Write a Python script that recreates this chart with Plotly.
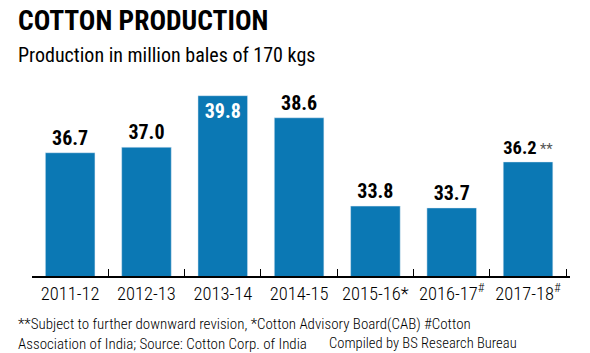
import plotly.graph_objects as go

years = ["2011-12", "2012-13", "2013-14", "2014-15", "2015-16", "2016-17", "2017-18"]
tick_text = ["2011-12", "2012-13", "2013-14", "2014-15", "2015-16*",
             "2016-17<sup>#</sup>", "2017-18<sup>#</sup>"]
production = [36.7, 37.0, 39.8, 38.6, 33.8, 33.7, 36.2]
label_suffix = ["", "", "", "", "", "", "<span style='font-size:16px;font-weight:normal;color:#555'> **</span>"]

FONT = "Roboto Condensed, DejaVu Sans Condensed, sans-serif"
BLUE = "#0b78b4"

labels = [f"{v:.1f}{s}" for v, s in zip(production, label_suffix)]
peak = production.index(max(production))
positions = ["inside" if i == peak else "outside" for i in range(len(production))]
colors = ["white" if i == peak else "black" for i in range(len(production))]

fig = go.Figure(go.Bar(
    x=years, y=production, marker_color=BLUE, width=0.65,
    text=labels, textposition=positions, insidetextanchor="end", textangle=0,
    textfont=dict(family=FONT, size=20, color=colors, weight="bold"),
    cliponaxis=False,
))

W, H = 590, 353
L, R, T, B = 32, 20, 92, 77
ph = H - T - B
pw = W - L - R

def py(p):
    return (H - B - p) / ph

def px(p):
    return (p - L) / pw

fig.update_layout(
    width=W, height=H, margin=dict(l=L, r=R, t=T, b=B),
    plot_bgcolor="white", paper_bgcolor="white",
    showlegend=False,
    font=dict(family=FONT, color="black"),
    xaxis=dict(type="category", tickvals=years, ticktext=tick_text, tickangle=0,
               tickson="boundaries", ticks="inside", ticklen=7, tickcolor="black",
               showline=True, linecolor="black", linewidth=1.5,
               tickfont=dict(family=FONT, size=18.5, color="black", weight=300),
               range=[-0.5, 6.55]),
    yaxis=dict(range=[30, 40], visible=False, showgrid=False),
    annotations=[
        dict(text="<b>COTTON PRODUCTION</b>", x=px(16), y=py(2), xref="paper", yref="paper",
             xanchor="left", yanchor="top", showarrow=False,
             font=dict(family=FONT, size=27.5, color="black")),
        dict(text="Production in million bales of 170 kgs", x=px(16), y=py(41), xref="paper", yref="paper",
             xanchor="left", yanchor="top", showarrow=False,
             font=dict(family=FONT, size=20, color="black")),
        dict(text="**Subject to further downward revision, *Cotton Advisory Board(CAB) #Cotton<br>"
                  "Association of India; Source: Cotton Corp. of India",
             x=px(16), y=py(313), xref="paper", yref="paper", align="left",
             xanchor="left", yanchor="top", showarrow=False,
             font=dict(family=FONT, size=15, color="black", weight=300)),
        dict(text="Compiled by BS Research Bureau",
             x=px(519), y=py(332), xref="paper", yref="paper",
             xanchor="right", yanchor="top", showarrow=False,
             font=dict(family=FONT, size=14.6, color="black", weight=300)),
    ],
)

fig.write_html("out.html")
